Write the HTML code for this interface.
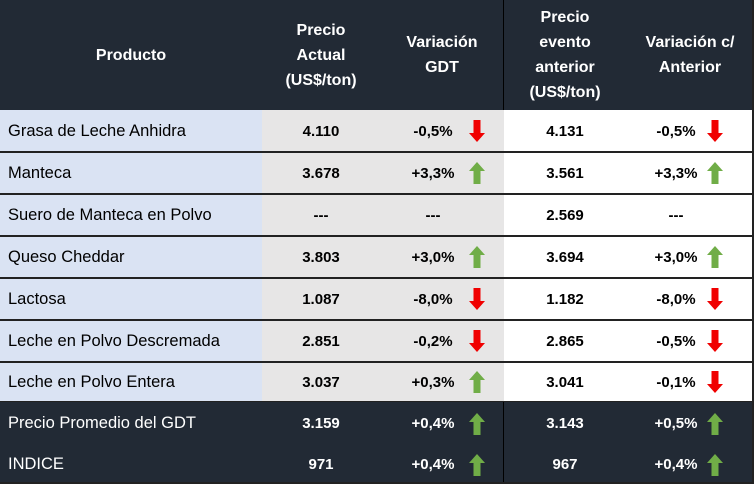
<!DOCTYPE html><html><head><style>
body{margin:0;width:754px;height:484px;overflow:hidden;background:#fff;font-family:"Liberation Sans",sans-serif}
.c{position:absolute;display:flex;align-items:center;justify-content:center;box-sizing:border-box}
.hd{color:#fff;font-weight:bold;font-size:16px;text-align:center;line-height:25px}
.t{font-size:16.5px;color:#000}
.b{font-weight:bold;font-size:15px}
</style></head><body>
<div id="r" style="position:relative;width:754px;height:484px"></div>
<script>
const R=document.getElementById('r');
function box(x,y,w,h,bg,html,cls,extra){const d=document.createElement('div');d.className='c '+(cls||'');d.style.cssText=`left:${x}px;top:${y}px;width:${w}px;height:${h}px;background:${bg};${extra||''}`;d.innerHTML=html;R.appendChild(d);}
const dark='#222a35';
box(0,0,754,110,dark,'');
box(0,0,262,110,'transparent','Producto','hd');
box(262,0,118,110,'transparent','Precio<br>Actual<br>(US$/ton)','hd');
box(380,0,124,110,'transparent','Variación<br>GDT','hd');
box(504,0,122,110,'transparent','Precio<br>evento<br>anterior<br>(US$/ton)','hd');
box(626,0,128,110,'transparent','Variación c/<br>Anterior','hd');
const up=c=>`<svg width="16" height="22" viewBox="0 0 16 22"><path d="M8 0L16 9H11.5V22H4.5V9H0Z" fill="${c}"/></svg>`;
const dn=`<svg width="16" height="22" viewBox="0 0 16 22"><path d="M8 22L16 13H11.5V0H4.5V13H0Z" fill="#f00000"/></svg>`;
const G='#70ad47';
const rows=[
['Grasa de Leche Anhidra','4.110','-0,5%',dn,'4.131','-0,5%',dn],
['Manteca','3.678','+3,3%',up(G),'3.561','+3,3%',up(G)],
['Suero de Manteca en Polvo','---','---','','2.569','---',''],
['Queso Cheddar','3.803','+3,0%',up(G),'3.694','+3,0%',up(G)],
['Lactosa','1.087','-8,0%',dn,'1.182','-8,0%',dn],
['Leche en Polvo Descremada','2.851','-0,2%',dn,'2.865','-0,5%',dn],
['Leche en Polvo Entera','3.037','+0,3%',up(G),'3.041','-0,1%',dn],
['Precio Promedio del GDT','3.159','+0,4%',up(G),'3.143','+0,5%',up(G)],
['INDICE','971','+0,4%',up(G),'967','+0,4%',up(G)]];
const ys=[110,152,194,236,278,320,362,402,445,484];
rows.forEach((r,i)=>{const y=ys[i],h=ys[i+1]-y,d=i>=7;
const col=d?'#fff':'#000';
box(0,y,754,h,d?dark:'#fff','');
box(0,y,262,h,d?dark:'#dae3f3',r[0],'t',`justify-content:flex-start;padding-left:8px;color:${col}`);
box(262,y,118,h,d?dark:'#e7e6e6',r[1],'b',`color:${col}`);
box(380,y,124,h,d?dark:'#e7e6e6','','');
box(380,y,88,h,'transparent',r[2],'b',`color:${col};padding-left:18px`);
box(462,y,30,h,'transparent',r[3],'');
box(504,y,122,h,'transparent',r[4],'b',`color:${col}`);
box(626,y,90,h,'transparent',r[5],'b',`color:${col};padding-left:10px`);
box(700,y,30,h,'transparent',r[6],'');
if(i<7&&i>0)box(0,y-1,754,2,'#222','');
});
box(0,401,754,1,'#222','');
box(503,0,1,110,'#000','');
box(503,402,1,82,'#000','');
box(752,0,2,484,'#222','');
box(0,482,754,2,'#222','');
</script></body></html>
